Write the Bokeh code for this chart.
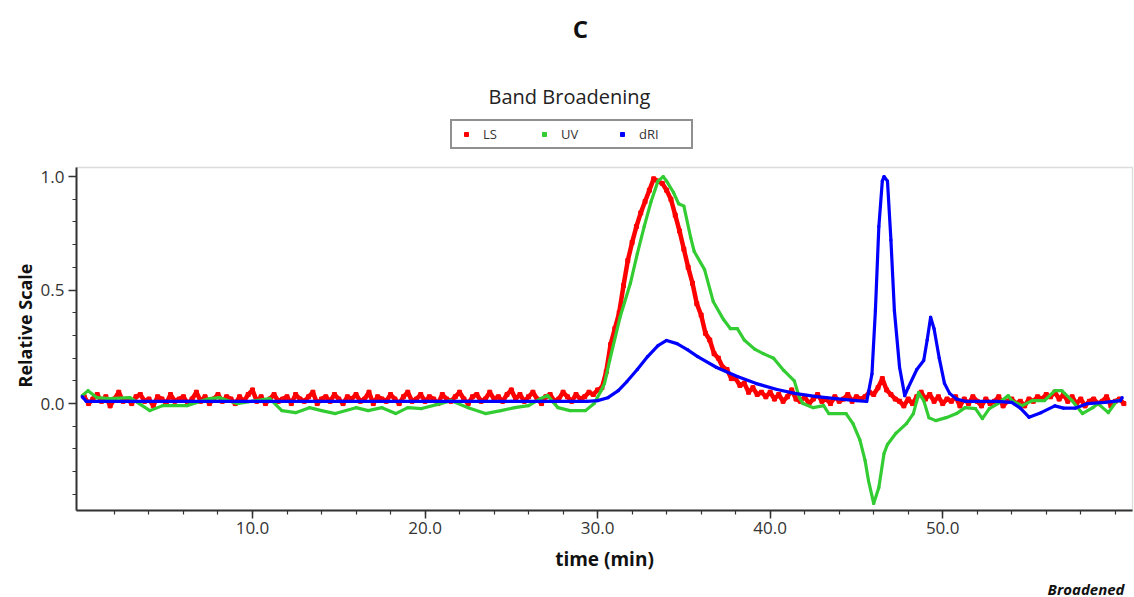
import math
from bokeh.plotting import figure
from bokeh.models import (Range1d, FixedTicker, Label, Legend, LegendItem,
                          NumeralTickFormatter, BoxAnnotation)
from bokeh.embed import file_html
from bokeh.resources import INLINE

# ---------------- data ----------------
ls_start = 0.25   # min, first LS sample
ls_step = 0.25    # min, LS sampling interval
ls_values = [
    0.03, 0.00, 0.02, 0.04, 0.01, 0.03, -0.01, 0.02, 0.05, 0.01, 0.02, 0.00, 0.03, 0.04, 0.01, 0.02, -0.01, 0.03, 0.02, 0.00,
    0.04, 0.01, 0.02, 0.03, 0.00, 0.02, 0.05, 0.01, 0.03, 0.00, 0.02, 0.04, 0.01, 0.03, 0.02, 0.00, 0.03, 0.01, 0.04, 0.06,
    0.01, 0.03, 0.00, 0.02, 0.04, 0.01, 0.02, 0.03, 0.00, 0.04, 0.02, 0.01, 0.03, 0.05, 0.00, 0.02, 0.03, 0.01, 0.04, 0.02,
    0.00, 0.03, 0.02, 0.04, 0.01, 0.02, 0.05, 0.00, 0.03, 0.02, 0.01, 0.04, 0.02, 0.00, 0.03, 0.05, 0.01, 0.02, 0.04, 0.01,
    0.03, 0.02, 0.00, 0.04, 0.02, 0.01, 0.03, 0.05, 0.02, 0.00, 0.03, 0.04, 0.01, 0.02, 0.05, 0.02, 0.03, 0.01, 0.04, 0.06,
    0.02, 0.04, 0.01, 0.03, 0.05, 0.02, 0.00, 0.03, 0.04, 0.01, 0.02, 0.05, 0.03, 0.01, 0.04, 0.02, 0.03, 0.05, 0.04, 0.06,
    0.07, 0.14, 0.26, 0.33, 0.40, 0.52, 0.63, 0.71, 0.78, 0.84, 0.89, 0.94, 0.99, 0.98, 0.97, 0.94, 0.90, 0.83, 0.76, 0.68,
    0.60, 0.53, 0.44, 0.39, 0.31, 0.28, 0.22, 0.20, 0.16, 0.15, 0.11, 0.11, 0.08, 0.09, 0.05, 0.07, 0.04, 0.05, 0.03, 0.05,
    0.02, 0.04, 0.01, 0.03, 0.06, 0.02, 0.01, 0.03, 0.00, 0.02, 0.04, 0.01, 0.02, 0.00, 0.03, 0.01, 0.02, 0.04, 0.01, 0.03,
    0.02, 0.03, 0.05, 0.04, 0.07, 0.11, 0.06, 0.04, 0.02, 0.01, -0.01, 0.02, 0.00, 0.03, 0.05, 0.02, 0.04, 0.01, 0.03, 0.00,
    0.02, 0.01, 0.03, -0.01, 0.02, 0.00, 0.03, 0.01, -0.01, 0.02, 0.00, 0.01, 0.03, -0.01, 0.01, 0.02, 0.00, 0.01, -0.01, 0.02,
    0.01, 0.03, 0.02, 0.04, 0.03, 0.05, 0.02, 0.04, 0.01, 0.03, 0.00, 0.02, -0.01, 0.01, 0.02, 0.00, 0.01, 0.03, -0.01, 0.01, 0.02, 0.00,
]

uv_time = [0.13, 0.47, 0.99, 1.74, 2.9, 4.05, 4.8, 6.2, 7.5, 8.1,
           9.1, 10.2, 11.0, 11.7, 12.5, 13.3, 14.0, 14.8, 16.0, 16.7,
           17.5, 18.3, 19.0, 19.8, 20.9, 21.5, 22.5, 23.5, 24.4, 25.2,
           26.0, 26.7, 27.1, 27.7, 28.4, 29.3, 29.8, 30.2, 30.4, 30.7,
           31.3, 31.9, 32.3, 32.7, 33.1, 33.5, 33.8, 34.0, 34.4, 34.7,
           35.0, 35.4, 35.6, 36.2, 36.7, 37.3, 37.7, 38.1, 38.5, 39.1,
           39.6, 40.2, 40.8, 41.4, 41.7, 41.9, 42.5, 43.1, 43.4, 44.4,
           44.8, 45.2, 45.5, 45.7, 46.0, 46.3, 46.6, 46.8, 47.3, 47.9,
           48.3, 48.5, 48.6, 48.9, 49.2, 49.6, 50.2, 50.8, 51.3, 51.9,
           52.3, 52.7, 53.2, 53.8, 54.0, 54.6, 55.2, 55.9, 56.5, 56.9,
           57.5, 58.1, 58.7, 59.0, 59.6, 60.1, 60.3]
uv_values = [0.035, 0.057, 0.026, 0.022, 0.026, -0.031, -0.009, -0.009, 0.022, 0.026,
             0.0, 0.013, 0.022, -0.031, -0.04, -0.018, -0.031, -0.044, -0.018, -0.031,
             -0.018, -0.044, -0.018, -0.022, 0.0, 0.013, -0.018, -0.044, -0.031, -0.018,
             -0.009, 0.022, 0.035, -0.018, -0.031, -0.031, 0.0, 0.057, 0.088, 0.19,
             0.38, 0.53, 0.66, 0.78, 0.89, 0.98, 1.0, 0.98, 0.93, 0.88,
             0.87, 0.73, 0.67, 0.59, 0.45, 0.37, 0.33, 0.33, 0.28, 0.24,
             0.22, 0.20, 0.145, 0.10, 0.026, 0.0, -0.018, -0.009, -0.044, -0.044,
             -0.088, -0.16, -0.25, -0.34, -0.44, -0.37, -0.22, -0.18, -0.13, -0.088,
             -0.044, 0.013, 0.048, 0.013, -0.062, -0.075, -0.062, -0.044, -0.018, -0.022,
             -0.066, -0.022, 0.0, 0.035, 0.013, -0.009, 0.013, 0.013, 0.057, 0.057,
             0.013, -0.044, -0.018, 0.0, -0.04, 0.013, 0.013]

ri_time = [0.13, 0.36, 5.0, 10.0, 15.0, 20.0, 25.0, 29.4,
           30.0, 30.6, 31.2, 31.7, 32.3, 32.9, 33.5, 34.0, 34.6, 35.2, 35.8,
           36.9, 38.1, 39.2, 40.4, 41.5, 42.7, 43.8, 45.0, 45.6,
           45.9, 46.1, 46.3, 46.5, 46.6, 46.8, 47.0, 47.2, 47.5, 47.8,
           48.0, 48.5, 48.9, 49.1, 49.3, 49.5, 49.8, 50.1, 50.4, 50.8, 51.3,
           53.1, 54.0, 54.5, 55.0, 55.7, 56.5, 57.0, 57.7, 58.4, 59.4, 60.3, 60.4]
ri_values = [0.03, 0.01, 0.01, 0.01, 0.01, 0.01, 0.01, 0.01,
             0.013, 0.026, 0.057, 0.097, 0.15, 0.207, 0.255, 0.278, 0.264, 0.238, 0.207,
             0.159, 0.119, 0.088, 0.062, 0.044, 0.031, 0.022, 0.013, 0.01,
             0.13, 0.41, 0.78, 0.98, 1.0, 0.98, 0.72, 0.41, 0.16, 0.035,
             0.07, 0.15, 0.19, 0.28, 0.38, 0.33, 0.2, 0.09, 0.045, 0.02, 0.01,
             0.01, 0.005, -0.02, -0.06, -0.04, -0.01, -0.02, -0.02, 0.0, 0.005, 0.013, 0.026]

series_names = ["LS", "UV", "dRI"]
series_colors = ["#ff0000", "#33cc33", "#0000ff"]

x_major = [10, 20, 30, 40, 50]
x_minor = [2, 4, 6, 8, 10, 12, 14, 16, 18, 20, 22, 24, 26, 28, 30, 32, 34, 36, 38, 40,
           42, 44, 46, 48, 50, 52, 54, 56, 58, 60]
y_major = [0.0, 0.5, 1.0]
y_minor = [-0.4, -0.3, -0.2, -0.1, 0.0, 0.1, 0.2, 0.3, 0.4, 0.5, 0.6, 0.7, 0.8, 0.9, 1.0]

ls_time = [ls_start + i * ls_step for i in range(len(ls_values))]

FONT = "Open Sans"
W, H = 1134, 597
BOX_L, BOX_R, BOX_T, BOX_B = 76, 1132, 167, 510   # data box in canvas pixels
X0, X1 = -0.2, 61.0          # plotted time window
Y0, Y1 = -0.471, 1.04        # plotted relative-scale window
sx = (BOX_R - BOX_L) / (X1 - X0)
sy = (BOX_B - BOX_T) / (Y1 - Y0)

# the frame spans the whole canvas; axes are pinned to the data box edges
p = figure(width=W, height=H, output_backend="svg", toolbar_location=None, title=None,
           x_range=Range1d(X0 - BOX_L / sx, X1 + (W - BOX_R) / sx),
           y_range=Range1d(Y0 - (H - BOX_B) / sy, Y1 + BOX_T / sy),
           min_border_left=0, min_border_right=0, min_border_top=0, min_border_bottom=0)
p.grid.visible = False
p.outline_line_color = None
p.background_fill_color = "white"
p.border_fill_color = "white"

p.add_layout(BoxAnnotation(left=X0, right=X1, bottom=Y0, top=Y1, fill_alpha=0,
                           line_color="#8c8c8c", line_width=1.3, level="underlay"))

for ax in (p.xaxis[0], p.yaxis[0]):
    ax.axis_line_color = "#333333"
    ax.axis_line_width = 2
    ax.major_tick_line_color = "#333333"
    ax.minor_tick_line_color = "#333333"
    ax.major_tick_line_width = 1.5
    ax.minor_tick_line_width = 1.2
    ax.major_tick_out = 8
    ax.major_tick_in = 0
    ax.minor_tick_out = 4
    ax.minor_tick_in = 0
    ax.major_label_text_font = FONT
    ax.major_label_text_font_size = "17px"
    ax.major_label_text_color = "#333333"
    ax.formatter = NumeralTickFormatter(format="0.0")

p.xaxis.fixed_location = Y0
p.yaxis.fixed_location = X0
p.xaxis.bounds = (X0, X1)
p.yaxis.bounds = (Y0, Y1)
p.xaxis.ticker = FixedTicker(ticks=x_major, minor_ticks=x_minor)
p.yaxis.ticker = FixedTicker(ticks=y_major, minor_ticks=y_minor)
p.xaxis.major_label_standoff = 3
p.yaxis.major_label_standoff = 4

# ---------------- series ----------------
lw = [4.5, 3.2, 3.2]
dot_size = [4, 2, 2]
xs = [ls_time, uv_time, ri_time]
ys = [ls_values, uv_values, ri_values]
dots = []
for t, v, c, w, s in zip(xs, ys, series_colors, lw, dot_size):
    p.line(t, v, line_color=c, line_width=w, line_join="round")
    dots.append(p.scatter(t, v, marker="square", size=s, fill_color=c, line_color=c))

legend = Legend(items=[LegendItem(label=n, renderers=[r]) for n, r in zip(series_names, dots)],
                orientation="horizontal", location=(450, H - 149),
                padding=4, spacing=3, margin=0,
                glyph_width=20, glyph_height=10, label_standoff=7,
                label_width=48, label_height=12,
                label_text_font=FONT, label_text_font_size="13px", label_text_color="#333333",
                border_line_color="#222222", border_line_width=2,
                background_fill_color="white", background_fill_alpha=1.0)
p.add_layout(legend)

# ---------------- texts (screen units from the canvas bottom-left) ----------------
def add_text(x, y, text, size, style="normal", align="center", angle=0.0, color="#111111"):
    p.add_layout(Label(x=x, y=H - y, x_units="screen", y_units="screen", text=text, angle=angle,
                       text_align=align, text_baseline="middle", text_font=FONT,
                       text_font_size=size, text_font_style=style, text_color=color))

add_text(580, 28, "C", "24px", "bold")
add_text(569, 96, "Band Broadening", "20px", color="#222222")
add_text(604, 558, "time (min)", "19px", "bold")
add_text(24, 325, "Relative Scale", "18px", "bold", angle=math.pi / 2)
add_text(1124, 588, "Broadened", "15px", "bold italic", align="right")

open("out.html", "w").write(file_html(p, INLINE))
